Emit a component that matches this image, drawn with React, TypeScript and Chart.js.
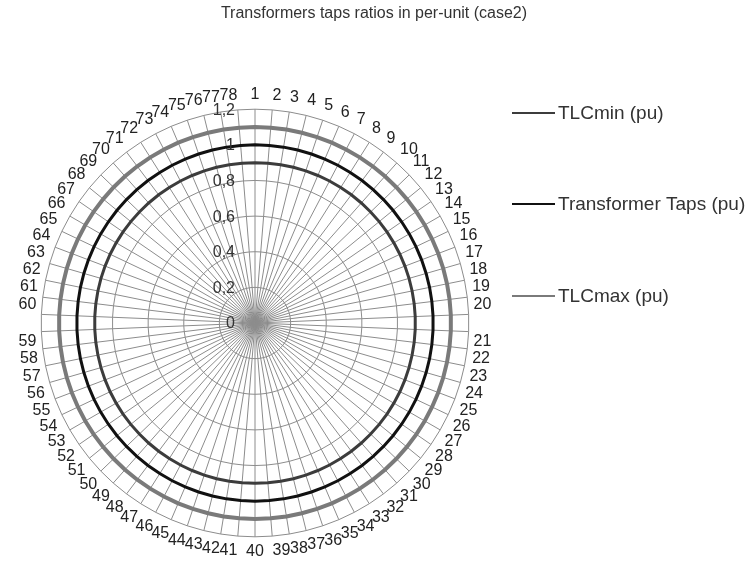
import React, { useEffect, useRef } from "react";
import { Chart, registerables } from "chart.js";

Chart.register(...registerables);

const TITLE = "Transformers taps ratios in per-unit (case2)";

const categories = [
  "1","2","3","4","5","6","7","8","9","10","11","12","13","14","15","16","17","18","19","20",
  "21","22","23","24","25","26","27","28","29","30","31","32","33","34","35","36","37","38","39","40",
  "41","42","43","44","45","46","47","48","49","50","51","52","53","54","55","56","57","58","59","60",
  "61","62","63","64","65","66","67","68","69","70","71","72","73","74","75","76","77","78",
];

const tlcMin = [
  0.9,0.9,0.9,0.9,0.9,0.9,0.9,0.9,0.9,0.9,0.9,0.9,0.9,0.9,0.9,0.9,0.9,0.9,0.9,0.9,
  0.9,0.9,0.9,0.9,0.9,0.9,0.9,0.9,0.9,0.9,0.9,0.9,0.9,0.9,0.9,0.9,0.9,0.9,0.9,0.9,
  0.9,0.9,0.9,0.9,0.9,0.9,0.9,0.9,0.9,0.9,0.9,0.9,0.9,0.9,0.9,0.9,0.9,0.9,0.9,0.9,
  0.9,0.9,0.9,0.9,0.9,0.9,0.9,0.9,0.9,0.9,0.9,0.9,0.9,0.9,0.9,0.9,0.9,0.9,
];

const transformerTaps = [
  1,1,1,1,1,1,1,1,1,1,1,1,1,1,1,1,1,1,1,1,
  1,1,1,1,1,1,1,1,1,1,1,1,1,1,1,1,1,1,1,1,
  1,1,1,1,1,1,1,1,1,1,1,1,1,1,1,1,1,1,1,1,
  1,1,1,1,1,1,1,1,1,1,1,1,1,1,1,1,1,1,
];

const tlcMax = [
  1.1,1.1,1.1,1.1,1.1,1.1,1.1,1.1,1.1,1.1,1.1,1.1,1.1,1.1,1.1,1.1,1.1,1.1,1.1,1.1,
  1.1,1.1,1.1,1.1,1.1,1.1,1.1,1.1,1.1,1.1,1.1,1.1,1.1,1.1,1.1,1.1,1.1,1.1,1.1,1.1,
  1.1,1.1,1.1,1.1,1.1,1.1,1.1,1.1,1.1,1.1,1.1,1.1,1.1,1.1,1.1,1.1,1.1,1.1,1.1,1.1,
  1.1,1.1,1.1,1.1,1.1,1.1,1.1,1.1,1.1,1.1,1.1,1.1,1.1,1.1,1.1,1.1,1.1,1.1,
];

const seriesNames = ["TLCmin (pu)", "Transformer Taps (pu)", "TLCmax (pu)"];
const seriesColors = ["#3c3c3c", "#111111", "#7a7a7a"];

const tickValues = [0, 0.2, 0.4, 0.6, 0.8, 1, 1.2];
const tickLabels = ["0", "0,2", "0,4", "0,6", "0,8", "1", "1,2"];

const FONT = "'Liberation Sans', Arial, sans-serif";

const overlayPlugin = {
  id: "overlay",
  afterDraw(chart: any) {
    const ctx = chart.ctx;
    const scale = chart.scales.r;
    ctx.save();
    // title
    ctx.fillStyle = "#333";
    ctx.font = `16px ${FONT}`;
    ctx.textAlign = "center";
    ctx.textBaseline = "middle";
    ctx.fillText(TITLE, 374, 14);

    // tick labels
    ctx.font = `16px ${FONT}`;
    ctx.textAlign = "right";
    ctx.fillStyle = "#333";
    tickValues.forEach((v, i) => {
      const d = scale.getDistanceFromCenterForValue(v);
      ctx.fillText(tickLabels[i], scale.xCenter - 20, scale.yCenter - d + 1);
    });

    // legend
    const legendY = [113, 204, 296];
    chart.data.datasets.forEach((ds: any, i: number) => {
      ctx.strokeStyle = ds.borderColor;
      ctx.lineWidth = 2;
      ctx.beginPath();
      ctx.moveTo(512, legendY[i]);
      ctx.lineTo(555, legendY[i]);
      ctx.stroke();
      ctx.fillStyle = "#333";
      ctx.font = `19px ${FONT}`;
      ctx.textAlign = "left";
      ctx.fillText(ds.label, 558, legendY[i] + 1);
    });
    ctx.restore();
  },
};

export default function App() {
  const ref = useRef<HTMLCanvasElement | null>(null);
  useEffect(() => {
    if (!ref.current) return;
    const chart = new Chart(ref.current, {
      type: "radar",
      data: {
        labels: categories,
        datasets: [tlcMin, transformerTaps, tlcMax].map((d, i) => ({
          label: seriesNames[i],
          data: d,
          borderColor: seriesColors[i],
          backgroundColor: "transparent",
          borderWidth: i === 2 ? 4 : 3,
          pointRadius: 0,
          fill: false,
        })),
      },
      options: {
        animation: false,
        responsive: false,
        maintainAspectRatio: false,
        layout: { padding: { left: 8, right: 250, top: 85, bottom: 5 } },
        plugins: {
          legend: { display: false },
          title: { display: false },
          tooltip: { enabled: false },
        },
        scales: {
          r: {
            min: 0,
            max: 1.2,
            beginAtZero: true,
            ticks: { stepSize: 0.2, display: false },
            grid: { circular: false, color: "#8c8c8c", lineWidth: 1 },
            angleLines: { display: true, color: "#8c8c8c", lineWidth: 1 },
            pointLabels: {
              display: true,
              padding: 5,
              color: "#222",
              font: { family: FONT, size: 16 },
            },
          },
        },
      },
      plugins: [overlayPlugin],
    });
    return () => chart.destroy();
  }, []);
  return (
    <div style={{ position: "fixed", left: 0, top: 0, width: 752, height: 567, background: "#fff" }}>
      <canvas ref={ref} width={752} height={567} style={{ width: 752, height: 567 }} />
    </div>
  );
}
